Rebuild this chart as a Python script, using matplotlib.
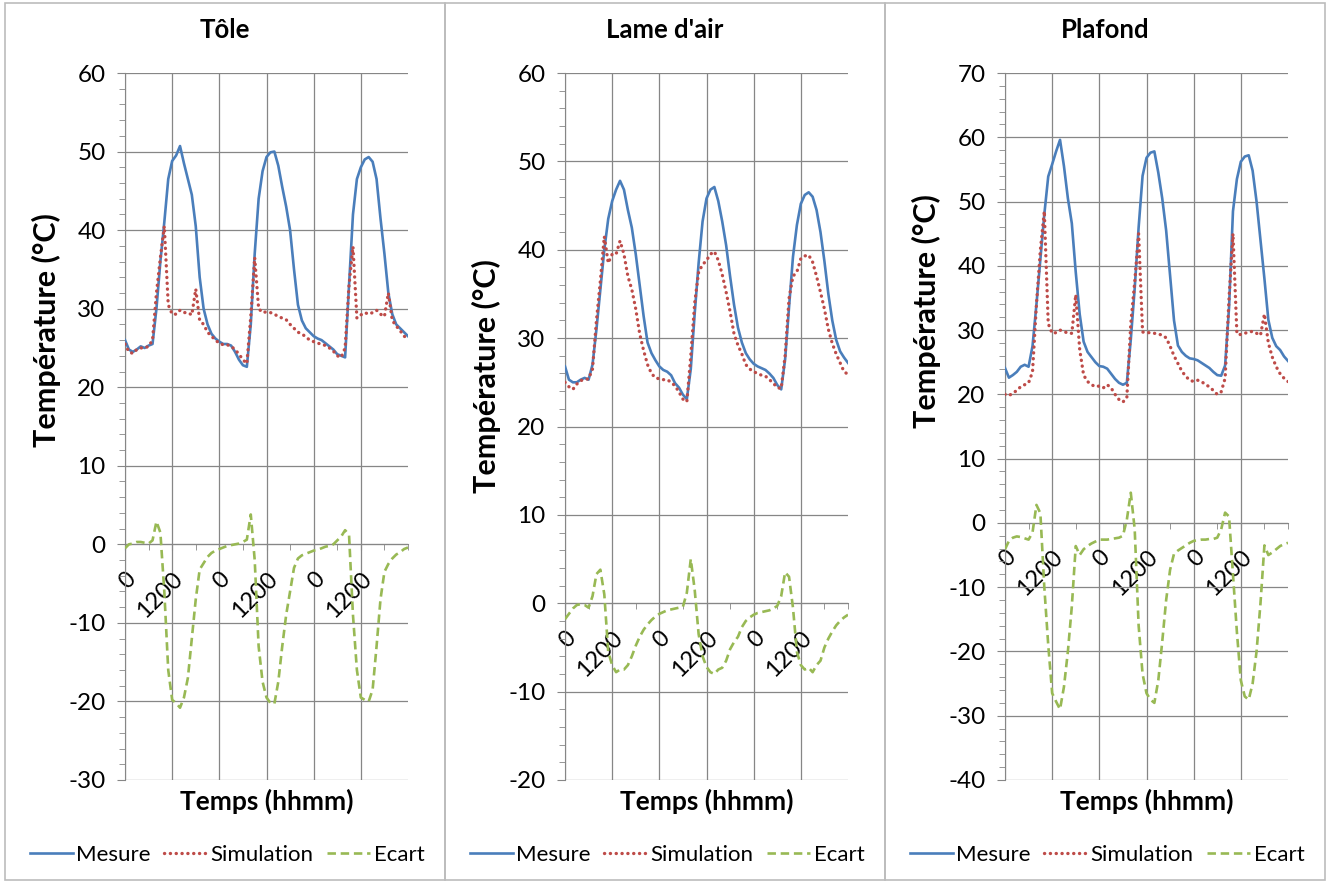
import numpy as np
import matplotlib
matplotlib.use("Agg")
import matplotlib.pyplot as plt
from matplotlib.patches import Rectangle
from matplotlib.ticker import MultipleLocator, FixedLocator

plt.rcParams['font.family'] = ['Lato', 'DejaVu Sans']
plt.rcParams['axes.unicode_minus'] = False

# heures (pas horaire sur 3 jours)
heures = np.arange(73)

# --- Tôle ---
tole_mesure = [26.0, 24.8, 24.5, 24.8, 25.2, 25.0, 25.3, 25.5, 30.0, 36.0, 41.0, 46.5, 48.8, 49.5, 50.7, 48.5,
               46.5, 44.5, 40.5, 34.0, 30.0, 28.0, 26.8, 26.2, 25.8, 25.5, 25.5, 25.3, 24.5, 23.5, 22.8, 22.6,
               28.0, 37.0, 44.0, 47.5, 49.3, 49.9, 50.0, 48.2, 45.5, 43.0, 40.0, 35.0, 30.5, 28.5, 27.5, 27.0,
               26.5, 26.2, 26.0, 25.6, 25.2, 24.8, 24.2, 24.0, 23.8, 33.0, 42.0, 46.5, 48.0, 49.0, 49.3, 48.7,
               46.5, 41.5, 37.0, 32.0, 29.3, 28.0, 27.5, 27.0, 26.5]
tole_simu = [25.5, 24.5, 24.3, 24.8, 25.0, 25.0, 25.2, 26.0, 32.0, 36.5, 40.5, 30.5, 29.3, 29.3, 29.8, 29.5,
             29.5, 29.2, 32.5, 28.5, 28.0, 27.0, 26.5, 26.0, 25.6, 25.4, 25.4, 25.2, 24.8, 24.2, 23.5, 23.0,
             29.0, 36.5, 30.0, 29.5, 29.6, 29.5, 29.3, 29.0, 28.8, 28.6, 28.0, 27.5, 27.0, 26.8, 26.4, 26.0,
             25.8, 25.6, 25.5, 25.3, 25.0, 24.6, 24.0, 23.8, 25.0, 33.0, 37.9, 28.8, 29.2, 29.5, 29.3, 29.5,
             29.8, 29.3, 29.0, 32.0, 28.5, 27.8, 27.2, 26.5, 26.2]
tole_ecart = [-0.5, 0.0, 0.1, 0.3, 0.3, 0.2, 0.1, 0.5, 2.9, 1.5, -6.0, -16.0, -19.8, -20.2, -20.8, -19.5,
              -17.0, -12.0, -7.0, -3.2, -2.4, -1.6, -1.1, -0.8, -0.6, -0.4, -0.2, -0.1, 0.0, 0.1, 0.3, 0.6,
              3.8, -2.0, -13.0, -17.5, -19.5, -20.2, -20.3, -17.5, -13.0, -9.0, -6.0, -3.0, -1.8, -1.4, -1.2, -1.0,
              -0.8, -0.7, -0.5, -0.3, -0.2, 0.0, 0.5, 1.0, 1.8, 1.2, -9.0, -16.0, -19.5, -19.8, -20.0, -18.5,
              -13.0, -7.0, -3.5, -2.5, -1.8, -1.3, -1.0, -0.6, -0.4]

# --- Lame d'air ---
lame_mesure = [26.8, 25.3, 25.0, 25.0, 25.3, 25.5, 25.3, 27.0, 31.0, 35.5, 40.0, 43.5, 45.5, 46.8, 47.8, 46.8,
               44.5, 42.5, 39.5, 36.0, 32.5, 29.5, 28.3, 27.5, 26.8, 26.4, 26.2, 25.8, 24.9, 24.4, 23.6, 23.1,
               26.5, 32.8, 38.5, 43.2, 45.8, 46.8, 47.1, 45.5, 43.2, 40.5, 37.0, 33.8, 31.2, 29.5, 28.3, 27.6,
               27.1, 26.8, 26.6, 26.4, 26.0, 25.5, 24.7, 24.2, 27.6, 33.5, 39.2, 42.8, 45.2, 46.2, 46.5, 46.0,
               44.5, 42.0, 38.7, 35.0, 32.0, 29.8, 28.5, 27.8, 27.2]
lame_simu = [25.0, 24.5, 24.2, 24.8, 25.2, 25.3, 25.4, 26.5, 32.0, 36.5, 41.5, 38.5, 39.5, 39.5, 41.0, 39.5,
             37.0, 35.5, 33.3, 30.5, 28.6, 27.0, 26.0, 25.5, 25.4, 25.3, 25.3, 25.0, 24.6, 23.9, 23.1, 22.8,
             28.0, 34.0, 37.5, 38.3, 38.8, 39.5, 39.8, 38.8, 37.2, 35.2, 33.0, 30.5, 29.2, 28.2, 27.0, 26.5,
             26.2, 26.0, 25.8, 25.7, 25.3, 24.9, 24.4, 24.3, 28.0, 34.5, 37.0, 37.5, 39.0, 39.3, 39.4, 38.6,
             37.0, 35.2, 33.3, 31.0, 29.4, 28.2, 27.2, 26.2, 25.9]
lame_ecart = [-1.8, -1.2, -0.6, -0.2, -0.1, -0.2, -0.5, 0.8, 3.3, 3.8, 1.0, -5.5, -7.0, -7.8, -7.5, -7.5,
              -7.0, -6.0, -4.8, -3.8, -3.0, -2.4, -1.9, -1.5, -1.2, -1.0, -0.8, -0.7, -0.6, -0.5, -0.4, 1.2,
              5.0, 1.5, -3.5, -6.0, -7.2, -7.8, -8.0, -7.5, -7.3, -6.5, -5.2, -4.4, -3.8, -2.7, -2.0, -1.6,
              -1.3, -1.1, -1.0, -0.9, -0.8, -0.6, -0.3, 0.8, 3.5, 3.0, -0.5, -5.5, -7.0, -7.5, -7.3, -7.8,
              -7.0, -6.5, -5.0, -4.0, -3.2, -2.5, -2.0, -1.6, -1.3]

# --- Plafond ---
plaf_mesure = [24.1, 22.6, 23.0, 23.5, 24.3, 24.6, 24.3, 27.5, 34.0, 41.0, 48.0, 53.9, 55.8, 57.8, 59.6, 55.5,
               50.5, 46.6, 39.0, 32.5, 28.2, 26.6, 25.8, 25.0, 24.4, 24.3, 24.0, 23.2, 22.4, 21.8, 21.5, 21.8,
               28.5, 36.5, 46.0, 54.0, 56.8, 57.6, 57.8, 54.5, 50.5, 45.5, 38.5, 31.5, 27.6, 26.6, 26.0, 25.6,
               25.5, 25.3, 24.9, 24.5, 24.1, 23.5, 23.0, 22.9, 24.5, 33.5, 48.5, 53.5, 56.2, 57.0, 57.2, 54.8,
               50.0, 44.0, 38.0, 31.6, 28.8, 27.5, 26.9, 25.9, 25.2]
plaf_simu = [20.0, 19.8, 20.2, 20.6, 21.2, 21.5, 21.8, 23.5, 34.0, 42.5, 48.5, 31.0, 29.5, 29.6, 30.0, 29.8,
             29.5, 29.5, 35.5, 27.0, 23.0, 22.0, 21.5, 21.2, 21.3, 21.0, 21.5, 21.0, 20.0, 19.2, 18.8, 19.5,
             31.0, 37.5, 45.0, 29.7, 29.6, 29.6, 29.5, 29.4, 29.2, 28.8, 27.5, 26.0, 24.8, 23.6, 22.8, 22.2,
             22.0, 22.2, 22.0, 21.5, 21.2, 20.6, 20.0, 20.4, 22.5, 35.0, 45.0, 29.4, 29.3, 29.5, 29.7, 29.8,
             29.5, 29.2, 32.5, 28.0, 25.8, 24.3, 23.2, 22.5, 22.0]
plaf_ecart = [-4.1, -2.8, -2.3, -2.1, -2.2, -2.4, -2.6, -1.5, 2.8, 1.5, -10.0, -19.0, -26.5, -27.8, -29.0, -25.5,
              -20.0, -13.0, -3.6, -5.0, -4.1, -3.6, -3.2, -2.9, -2.6, -2.6, -2.6, -2.5, -2.4, -2.3, -2.0, 0.5,
              4.7, -1.0, -16.0, -23.5, -26.5, -27.5, -28.0, -24.5, -18.5, -12.0, -7.3, -4.8, -4.3, -3.9, -3.5, -3.1,
              -2.8, -2.7, -2.6, -2.6, -2.5, -2.5, -2.3, -1.0, 1.6, 1.0, -8.0, -17.0, -24.5, -27.0, -27.5, -25.0,
              -20.0, -12.5, -3.5, -5.0, -4.6, -4.1, -3.6, -3.3, -3.1]

titres = ["Tôle", "Lame d'air", "Plafond"]
ylims = [(-30, 60), (-20, 60), (-40, 70)]
mesures = [tole_mesure, lame_mesure, plaf_mesure]
simus = [tole_simu, lame_simu, plaf_simu]
ecarts = [tole_ecart, lame_ecart, plaf_ecart]
xlabels_pos = [0, 12, 24, 36, 48, 60]
xlabels_txt = ["0", "1200", "0", "1200", "0", "1200"]
ylabel_y = [330, 376, 311]  # centre du titre vertical, en pixels depuis le haut

W, H = 1330, 883
fig = plt.figure(figsize=(W / 100, H / 100), dpi=100)

gris = '#868686'
for i in range(3):
    x0 = 5 + i * 440
    # cadre de chaque graphique
    fig.patches.append(Rectangle((x0 / W, 1 - 880 / H), 440 / W, 877 / H, transform=fig.transFigure,
                                 fill=False, edgecolor='#bcbcbc', lw=1.2))
    ax = fig.add_axes([(125 + i * 440) / W, 1 - 780 / H, 283 / W, 707 / H])
    l1, = ax.plot(heures, mesures[i], color='#4a7ebb', lw=1.9, label='Mesure', zorder=3)
    l2, = ax.plot(heures, simus[i], color='#be4b48', lw=2.4, ls=(0, (0.05, 1.7)), dash_capstyle='round',
                  label='Simulation', zorder=4)
    l3, = ax.plot(heures, ecarts[i], color='#98b954', lw=1.9, ls=(0, (3.2, 1.8)), label='Ecart', zorder=3)

    ax.set_xlim(0, 72)
    ax.set_ylim(*ylims[i])
    ax.yaxis.set_major_locator(MultipleLocator(10))
    ax.yaxis.set_minor_locator(MultipleLocator(2))
    ax.xaxis.set_major_locator(FixedLocator(xlabels_pos))
    ax.xaxis.set_minor_locator(FixedLocator([6, 18, 30, 42, 54, 66, 72]))
    ax.set_xticklabels(xlabels_txt)
    ax.grid(True, which='major', color=gris, lw=0.9)
    ax.set_axisbelow(True)

    for s in ['top', 'right']:
        ax.spines[s].set_visible(False)
    ax.spines['bottom'].set_position(('data', 0))
    ax.spines['bottom'].set_color(gris)
    ax.spines['left'].set_color(gris)
    ax.tick_params(axis='y', which='major', direction='out', length=6, color=gris, labelsize=17.5, pad=8)
    ax.tick_params(axis='y', which='minor', direction='out', length=4, color=gris)
    ax.tick_params(axis='x', which='both', direction='out', length=4, color=gris, labelsize=17, pad=13,
                   labelrotation=45)
    for lbl in ax.get_xticklabels():
        lbl.set_ha('right')
        lbl.set_va('top')
        lbl.set_rotation_mode('anchor')

    cx = (125 + i * 440 + 141.5) / W
    fig.text((x0 + 220) / W, 1 - 30 / H, titres[i], ha='center', va='center', fontsize=18.5, fontweight='bold')
    fig.text(cx, 1 - 801 / H, "Temps (hhmm)", ha='center', va='center', fontsize=19, fontweight='bold')
    fig.text((46 + i * 440) / W, 1 - ylabel_y[i] / H, "Température (°C)", ha='center', va='center',
             rotation=90, fontsize=22, fontweight='bold')
    fig.legend(handles=[l1, l2, l3], loc='center', bbox_to_anchor=((x0 + 222) / W, 1 - 855 / H), ncol=3,
               frameon=False, fontsize=16, handlelength=1.95, handletextpad=0.15, columnspacing=0.6)

fig.savefig('out.png', dpi=100)
